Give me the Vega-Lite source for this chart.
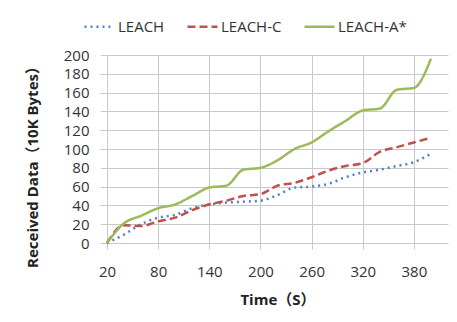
{
  "$schema": "https://vega.github.io/schema/vega-lite/v6.json",
  "width": 341,
  "height": 188,
  "autosize": {"type": "none"},
  "padding": {"left": 107, "top": 55, "right": 9, "bottom": 79},
  "background": "white",
  "config": {
    "font": "Open Sans, Noto Sans CJK SC, sans-serif",
    "view": {"stroke": null}
  },
  "data": {
    "values": [
      {"t": 20, "s": "LEACH", "v": 0}, {"t": 40, "s": "LEACH", "v": 9}, {"t": 60, "s": "LEACH", "v": 20}, {"t": 80, "s": "LEACH", "v": 27}, {"t": 100, "s": "LEACH", "v": 30},
      {"t": 120, "s": "LEACH", "v": 37}, {"t": 140, "s": "LEACH", "v": 41}, {"t": 160, "s": "LEACH", "v": 43}, {"t": 180, "s": "LEACH", "v": 44}, {"t": 200, "s": "LEACH", "v": 45},
      {"t": 220, "s": "LEACH", "v": 51}, {"t": 240, "s": "LEACH", "v": 59}, {"t": 260, "s": "LEACH", "v": 60}, {"t": 280, "s": "LEACH", "v": 63}, {"t": 300, "s": "LEACH", "v": 70},
      {"t": 320, "s": "LEACH", "v": 75}, {"t": 340, "s": "LEACH", "v": 78}, {"t": 360, "s": "LEACH", "v": 82}, {"t": 380, "s": "LEACH", "v": 86}, {"t": 400, "s": "LEACH", "v": 95},
      {"t": 20, "s": "LEACH-C", "v": 0}, {"t": 40, "s": "LEACH-C", "v": 19}, {"t": 60, "s": "LEACH-C", "v": 18}, {"t": 80, "s": "LEACH-C", "v": 23}, {"t": 100, "s": "LEACH-C", "v": 27},
      {"t": 120, "s": "LEACH-C", "v": 35}, {"t": 140, "s": "LEACH-C", "v": 41}, {"t": 160, "s": "LEACH-C", "v": 45}, {"t": 180, "s": "LEACH-C", "v": 50}, {"t": 200, "s": "LEACH-C", "v": 52},
      {"t": 220, "s": "LEACH-C", "v": 61}, {"t": 240, "s": "LEACH-C", "v": 64}, {"t": 260, "s": "LEACH-C", "v": 70}, {"t": 280, "s": "LEACH-C", "v": 77}, {"t": 300, "s": "LEACH-C", "v": 82},
      {"t": 320, "s": "LEACH-C", "v": 85}, {"t": 340, "s": "LEACH-C", "v": 97}, {"t": 360, "s": "LEACH-C", "v": 102}, {"t": 380, "s": "LEACH-C", "v": 107}, {"t": 400, "s": "LEACH-C", "v": 112},
      {"t": 20, "s": "LEACH-A*", "v": 0}, {"t": 40, "s": "LEACH-A*", "v": 21}, {"t": 60, "s": "LEACH-A*", "v": 29}, {"t": 80, "s": "LEACH-A*", "v": 37}, {"t": 100, "s": "LEACH-A*", "v": 41},
      {"t": 120, "s": "LEACH-A*", "v": 50}, {"t": 140, "s": "LEACH-A*", "v": 59}, {"t": 160, "s": "LEACH-A*", "v": 61}, {"t": 180, "s": "LEACH-A*", "v": 78}, {"t": 200, "s": "LEACH-A*", "v": 80},
      {"t": 220, "s": "LEACH-A*", "v": 88}, {"t": 240, "s": "LEACH-A*", "v": 100}, {"t": 260, "s": "LEACH-A*", "v": 107}, {"t": 280, "s": "LEACH-A*", "v": 119}, {"t": 300, "s": "LEACH-A*", "v": 130},
      {"t": 320, "s": "LEACH-A*", "v": 141}, {"t": 340, "s": "LEACH-A*", "v": 143}, {"t": 360, "s": "LEACH-A*", "v": 163}, {"t": 380, "s": "LEACH-A*", "v": 165}, {"t": 400, "s": "LEACH-A*", "v": 196}
    ]
  },
  "mark": {"type": "line", "interpolate": "monotone", "strokeWidth": 2.5},
  "encoding": {
    "x": {
      "field": "t",
      "type": "quantitative",
      "scale": {"domain": [20, 420], "nice": false, "zero": false},
      "axis": {
        "values": [20, 80, 140, 200, 260, 320, 380],
        "title": "Time（S）",
        "grid": true,
        "gridColor": "#C8C8C8",
        "domain": false,
        "tickColor": "#C8C8C8",
        "tickSize": 6,
        "labelFlush": false,
        "labelFontSize": 15,
        "labelColor": "#333333",
        "labelPadding": 15,
        "titleFontSize": 15,
        "titleFontWeight": "bold",
        "titleColor": "#222222",
        "titlePadding": 13
      }
    },
    "y": {
      "field": "v",
      "type": "quantitative",
      "scale": {"domain": [0, 200], "nice": false},
      "axis": {
        "values": [0, 20, 40, 60, 80, 100, 120, 140, 160, 180, 200],
        "title": "Received Data（10K Bytes）",
        "grid": true,
        "gridColor": "#C8C8C8",
        "domain": false,
        "tickColor": "#C8C8C8",
        "tickSize": 7,
        "labelFlush": false,
        "labelFontSize": 15,
        "labelColor": "#333333",
        "labelPadding": 11,
        "titleFontSize": 15,
        "titleFontWeight": "bold",
        "titleColor": "#222222",
        "titleY": 108,
        "titleX": -67
      }
    },
    "color": {
      "field": "s",
      "type": "nominal",
      "title": null,
      "scale": {"domain": ["LEACH", "LEACH-C", "LEACH-A*"], "range": ["#4F81BD", "#C0504D", "#9BBB59"]},
      "legend": {
        "orient": "none",
        "legendX": -24,
        "legendY": -45,
        "direction": "horizontal",
        "symbolType": "stroke",
        "symbolSize": 900,
        "symbolStrokeWidth": 2.5,
        "labelFontSize": 15,
        "labelColor": "#333333",
        "labelOffset": 2,
        "columnPadding": 17
      }
    },
    "strokeDash": {
      "field": "s",
      "type": "nominal",
      "title": null,
      "scale": {"domain": ["LEACH", "LEACH-C", "LEACH-A*"], "range": [[2, 4], [8, 4], [1, 0]]}
    }
  }
}
